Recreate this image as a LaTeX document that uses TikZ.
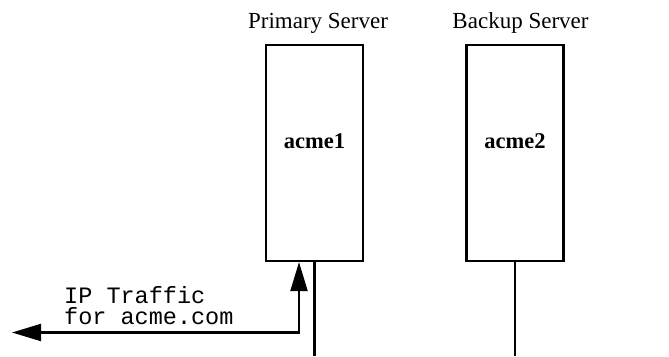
\documentclass[tikz,border=0pt]{standalone}
\usepackage{fontspec}
\setmainfont{Liberation Serif}
\setmonofont{Liberation Mono}
\usetikzlibrary{arrows.meta}
\begin{document}
\begin{tikzpicture}[x=1pt,y=-1pt,
  server/.style={draw,line width=2.2pt,minimum width=97pt,minimum height=216pt,inner sep=0pt},
  title/.style={font=\fontsize{23}{27}\selectfont,anchor=base},
  hostname/.style={font=\fontsize{22.5}{27}\selectfont\bfseries,anchor=base},
  wire/.style={line width=2.2pt},
  traffic/.style={line width=2.2pt,{Triangle[length=29pt,width=17pt]}-{Triangle[length=29pt,width=17pt]}},
  note/.style={font=\fontsize{23.5}{21}\selectfont\ttfamily,anchor=base west,inner sep=0pt,align=left}]
\useasboundingbox (0,0) rectangle (669,356);

% the two servers
\node[server] (box1) at (314.5,153) {};
\node[server] (box2) at (515,153) {};
\node[hostname] (n1) at (314.5,148) {acme1};
\node[hostname] (n2) at (515,148) {acme2};

% role captions
\node[title] (t1) at (318,28) {Primary Server};
\node[title] (t2) at (520.5,28) {Backup Server};

% network drops below each server
\coordinate (d1) at (314.5,356);
\coordinate (d2) at (515,356);
\draw[wire] (box1.south) -- (d1);
\draw[wire] (box2.south) -- (d2);

% client traffic reaching the primary
\coordinate (out) at (12,332.5);
\draw[traffic] (out) -| ([xshift=-15.5pt]box1.south);
\node[note] (lbl) at (64,324) {IP Traffic\\for acme.com};
\end{tikzpicture}
\end{document}
